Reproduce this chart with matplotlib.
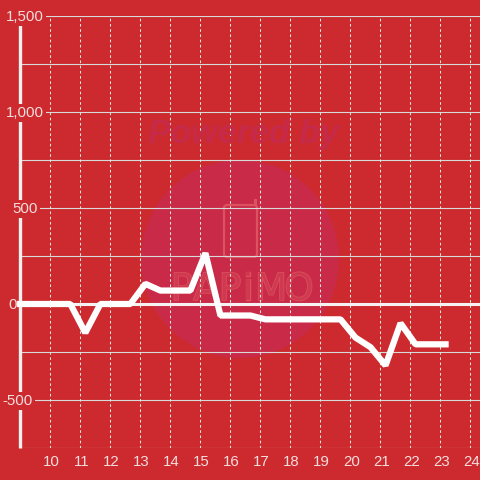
import matplotlib
matplotlib.use('Agg')
import matplotlib.pyplot as plt
from matplotlib.patches import Circle, FancyBboxPatch, Rectangle
from matplotlib.transforms import IdentityTransform, ScaledTranslation, blended_transform_factory
import matplotlib.patheffects as pe

hours = [9.0, 10.67, 11.17, 11.67, 12.67, 13.17, 13.67, 14.67, 15.17, 15.67, 16.67, 17.17,
         19.67, 20.17, 20.67, 21.17, 21.67, 22.17, 23.17]
values = [0, 0, -150, 0, 0, 105, 70, 70, 265, -60, -60, -80,
          -80, -175, -225, -320, -100, -210, -210]

x_ticks = list(range(10, 25))
major_y = [1500, 1000, 500, 0, -500]
major_labels = ['1,500', '1,000', '500', '0', '-500']
minor_y = [1250, 750, 250, -250]

BG = '#cc2a2e'
plt.rcParams['font.family'] = ['Liberation Sans', 'DejaVu Sans']

fig = plt.figure(figsize=(4.8, 4.8), dpi=100, facecolor=BG)
ax = fig.add_axes([20.2 / 480, 32 / 480, 459.8 / 480, 432 / 480], facecolor=BG)
ax.set_xlim(9, 24.317)
ax.set_ylim(-750, 1500)

# watermark, placed in pixels
px = IdentityTransform()
ax.add_patch(Circle((240, 480 - 259), 99, transform=px, fc='#c92a47', ec='none', zorder=0.5))
ax.add_patch(FancyBboxPatch((224, 480 - 257), 33, 52, boxstyle='round,pad=0,rounding_size=3', transform=px,
                            fc='none', ec='#dc5260', lw=1.6, zorder=0.6))
ax.add_patch(Rectangle((253.5, 480 - 206), 3, 7, transform=px, fc='#dc5260', ec='none', zorder=0.6))
fig.text(243 / 480, 1 - 134 / 480, 'Powered by', fontsize=24.5, weight='bold', style='italic',
         color='#c62a48', ha='center', va='center', zorder=0.6)
for ch, cx in zip('PAPiMO', [182, 206, 230, 248, 271, 299]):
    t = ax.text(cx, 480 - 290, ch, transform=px, fontsize=27, family='Liberation Sans Narrow',
                color='#cf3a50', ha='center', va='center', zorder=0.6)
    t.set_path_effects([pe.withStroke(linewidth=1.0, foreground='#dc5260')])

for v in major_y + minor_y:
    if v != 0:
        ax.axhline(v, color='#d9d9d9', lw=0.8, zorder=1)
ax.axhline(-750, color='#d9d9d9', lw=0.8, zorder=1)
for x in x_ticks:
    ax.axvline(x, color='#e8e8e0', lw=0.75, ls=(0, (2.5, 2.5)), zorder=1)
ax.axhline(0, color='#f7f2f2', lw=2.2, zorder=2)
ax.axvline(9, color='#f5f0f0', lw=2.4, zorder=2, clip_on=False, solid_capstyle='butt')

ax.plot(hours, values, color='white', lw=4.5, solid_joinstyle='bevel', solid_capstyle='projecting',
        zorder=3, clip_on=False)

for spine in ax.spines.values():
    spine.set_visible(False)
ax.set_yticks([])
ax.set_xticks(x_ticks)
ax.set_xticklabels([str(x) for x in x_ticks])
ax.tick_params(axis='x', length=0, pad=5, labelsize=10.8, labelcolor='#f5dede')
shift = ScaledTranslation(1 / 100, 0, fig.dpi_scale_trans)
for lab in ax.get_xticklabels():
    lab.set_transform(lab.get_transform() + shift)

trans = blended_transform_factory(px, ax.transData)
for v, lab, cx in zip(major_y, major_labels, [25, 25, 25, 12.5, 17.5]):
    if v == 0:
        ax.text(cx, v - 4, lab, transform=trans, fontsize=10.8, color='#f5dede', ha='center', va='center',
                zorder=4, clip_on=False)
    else:
        ax.text(cx, v - 4, lab, transform=trans, fontsize=10.8, color='#f5dede', ha='center', va='center', zorder=2.5,
                clip_on=False, bbox=dict(fc=BG, ec='none', pad=1.5))

fig.savefig('out.png', dpi=100, facecolor=BG)
